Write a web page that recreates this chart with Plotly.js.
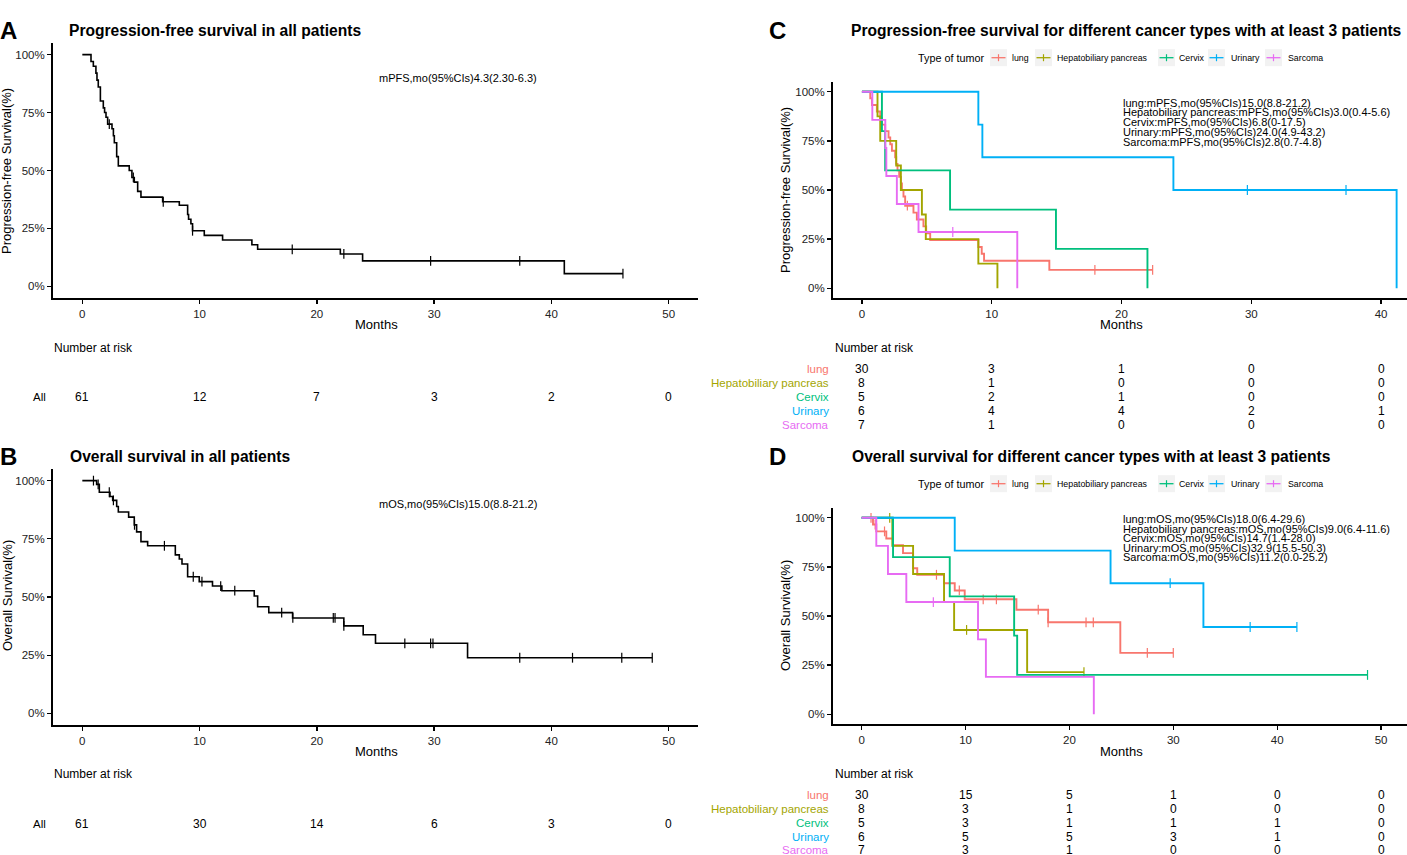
<!DOCTYPE html>
<html><head><meta charset="utf-8">
<script src="https://cdn.plot.ly/plotly-3.0.1.min.js"></script>
<style>html,body{margin:0;padding:0;background:#fff;overflow:hidden}#chart{width:1407px;height:855px}</style>
</head><body><div id="chart"></div>
<script>
// ---------------- DATA ----------------
const groups = ["lung", "Hepatobiliary pancreas", "Cervix", "Urinary", "Sarcoma"];

// Panel A: PFS, all patients (step times in months, survival %)
const pfsAllTime = [0, 0.74, 0.94, 1.16, 1.25, 1.36, 1.54, 1.79, 1.9, 2.02, 2.16, 2.53, 2.65, 2.73, 2.93, 3.07, 4.0, 4.23, 4.43, 4.72, 5.0, 6.85, 8.27, 8.98, 9.06, 9.26, 9.4, 10.4, 11.96, 14.46, 14.95, 22.0, 23.9, 41.1, 46.1];
const pfsAllSurv = [100, 97, 95, 92, 89, 86, 80, 77, 75, 73, 70, 68, 65, 62, 56, 52, 50, 47, 45, 41, 38.5, 36.5, 35, 31, 29, 27, 24, 22, 20, 18, 16, 14, 11, 5.5, 5.5];
const pfsAllCensor = [2.3, 4.35, 6.9, 9.4, 17.9, 22.3, 29.7, 37.3, 46.1];

// Panel B: OS, all patients
const osAllTime = [0, 1.22, 1.45, 2.36, 2.59, 2.93, 3.07, 3.95, 4.43, 4.63, 5.0, 5.57, 7.93, 8.27, 8.5, 8.98, 9.97, 11.1, 11.9, 14.66, 14.95, 15.9, 17.93, 22.3, 23.95, 25.0, 32.85, 48.6];
const osAllSurv = [100, 98.4, 95, 93.2, 91.5, 88.9, 86.5, 84.3, 81, 78, 73.8, 72, 68.1, 66.3, 64.2, 58.7, 56.6, 54.7, 52.7, 50.4, 45.8, 43.3, 41, 37.6, 33.8, 30.1, 23.9, 23.9];
const osAllCensor = [0.95, 1.35, 2.3, 2.65, 4.45, 7.0, 9.46, 10.2, 11.8, 13.0, 17.0, 17.95, 21.4, 21.55, 22.3, 27.5, 29.7, 29.9, 37.3, 41.8, 46.0, 48.6];

// Panel C: PFS by tumour type
const pfsLungTime = [0, 0.64, 0.77, 1.15, 1.41, 1.54, 1.79, 2.05, 2.18, 2.31, 2.56, 2.64, 2.74, 2.87, 3.0, 3.08, 3.2, 3.33, 3.97, 4.23, 4.74, 4.95, 5.26, 8.97, 9.23, 9.41, 14.44, 22.4];
const pfsLungSurv = [100, 96.7, 93.3, 90, 86.7, 83.3, 80, 76.7, 73.3, 70, 66.7, 63.3, 60, 56.7, 53.3, 50, 46.7, 42, 38.5, 35, 31.5, 28, 24.5, 21, 17.5, 14, 9.3, 9.3];
const pfsLungCensor = [3.5, 17.95, 22.4];
const pfsHepTime = [0, 1.2, 1.41, 2.64, 3.0, 4.62, 4.92, 8.97, 10.44];
const pfsHepSurv = [100, 87.5, 75, 62.5, 50, 37.5, 25, 12.5, 0];
const pfsHepCensor = [];
const pfsCervixTime = [0, 1.54, 1.79, 6.79, 14.95, 22.0];
const pfsCervixSurv = [100, 80, 60, 40, 20, 0];
const pfsCervixCensor = [];
const pfsUrinaryTime = [0, 8.97, 9.28, 24.0, 41.2];
const pfsUrinarySurv = [100, 83.3, 66.7, 50, 0];
const pfsUrinaryCensor = [29.7, 37.3];
const pfsSarcomaTime = [0, 0.8, 1.8, 1.88, 2.69, 4.36, 11.97];
const pfsSarcomaSurv = [100, 85.7, 71.4, 57.1, 42.9, 28.6, 0];
const pfsSarcomaCensor = [7.0];

// Panel D: OS by tumour type
const osLungTime = [0, 1.09, 1.41, 2.37, 3.02, 3.98, 4.95, 5.35, 7.93, 8.96, 9.92, 14.9, 17.95, 24.9, 30.0];
const osLungSurv = [100, 96.6, 93.1, 89.5, 86, 82, 74.3, 71, 66.7, 63, 58.5, 53.2, 46.8, 31.2, 31.2];
const osLungCensor = [0.9, 1.3, 2.2, 7.2, 9.4, 11.7, 12.97, 17.0, 17.95, 21.6, 22.3, 27.5, 30.0];
const osHepTime = [0, 2.95, 4.95, 7.93, 8.9, 15.93, 21.4];
const osHepSurv = [100, 85.7, 71.4, 57.1, 42.9, 21.4, 21.4];
const osHepCensor = [2.7, 10.1, 21.4];
const osCervixTime = [0, 3.02, 8.48, 14.68, 14.97, 48.7];
const osCervixSurv = [100, 80, 60, 40, 20, 20];
const osCervixCensor = [48.7];
const osUrinaryTime = [0, 8.96, 23.96, 32.9, 41.9];
const osUrinarySurv = [100, 83.3, 66.7, 44.4, 44.4];
const osUrinaryCensor = [29.7, 37.4, 41.9];
const osSarcomaTime = [0, 1.41, 2.53, 4.3, 11.2, 11.96, 22.35];
const osSarcomaSurv = [100, 85.7, 71.4, 57.1, 38.1, 19.0, 0];
const osSarcomaCensor = [6.9];

// Risk tables
const riskTimesAB = [0, 10, 20, 30, 40, 50];
const riskPfsAll = [61, 12, 7, 3, 2, 0];
const riskOsAll = [61, 30, 14, 6, 3, 0];
const riskTimesC = [0, 10, 20, 30, 40];
const riskPfsLung = [30, 3, 1, 0, 0];
const riskPfsHep = [8, 1, 0, 0, 0];
const riskPfsCervix = [5, 2, 1, 0, 0];
const riskPfsUrinary = [6, 4, 4, 2, 1];
const riskPfsSarcoma = [7, 1, 0, 0, 0];
const riskTimesD = [0, 10, 20, 30, 40, 50];
const riskOsLung = [30, 15, 5, 1, 0, 0];
const riskOsHep = [8, 3, 1, 0, 0, 0];
const riskOsCervix = [5, 3, 1, 1, 1, 0];
const riskOsUrinary = [6, 5, 5, 3, 1, 0];
const riskOsSarcoma = [7, 3, 1, 0, 0, 0];

// Labels / texts
const ticksPct = [0, 25, 50, 75, 100];
const tickPctText = ["0%", "25%", "50%", "75%", "100%"];
const statA = "mPFS,mo(95%CIs)4.3(2.30-6.3)";
const statB = "mOS,mo(95%CIs)15.0(8.8-21.2)";
const statC = ["lung:mPFS,mo(95%CIs)15.0(8.8-21.2)", "Hepatobiliary pancreas:mPFS,mo(95%CIs)3.0(0.4-5.6)", "Cervix:mPFS,mo(95%CIs)6.8(0-17.5)", "Urinary:mPFS,mo(95%CIs)24.0(4.9-43.2)", "Sarcoma:mPFS,mo(95%CIs)2.8(0.7-4.8)"];
const statD = ["lung:mOS,mo(95%CIs)18.0(6.4-29.6)", "Hepatobiliary pancreas:mOS,mo(95%CIs)9.0(6.4-11.6)", "Cervix:mOS,mo(95%CIs)14.7(1.4-28.0)", "Urinary:mOS,mo(95%CIs)32.9(15.5-50.3)", "Sarcoma:mOS,mo(95%CIs)11.2(0.0-25.2)"];

// ---------------- STYLE / LAYOUT ----------------
const colors = ["#F8766D", "#A3A500", "#00BF7D", "#00B0F6", "#E76BF3"];
const FONT = "Liberation Sans, Arial, Helvetica, sans-serif";
const W = 1407, H = 855;
const px = x => x / W, py = y => 1 - y / H;

function stepAt(T, S, t) { let v = S[0]; for (let i = 0; i < T.length; i++) if (T[i] <= t + 1e-9) v = S[i]; return v; }

const traces = [];
function addCurve(T, S, C, color, width, xa, ya) {
  traces.push({x: T, y: S, xaxis: xa, yaxis: ya, type: 'scatter', mode: 'lines', line: {shape: 'hv', color: color, width: width}, hoverinfo: 'skip', showlegend: false});
  if (C.length) traces.push({x: C, y: C.map(t => stepAt(T, S, t)), xaxis: xa, yaxis: ya, type: 'scatter', mode: 'markers',
    marker: {symbol: 'line-ns', size: 7, color: color, line: {color: color, width: 1.2}}, hoverinfo: 'skip', showlegend: false});
}
addCurve(pfsAllTime, pfsAllSurv, pfsAllCensor, '#000', 1.6, 'x', 'y');
addCurve(osAllTime, osAllSurv, osAllCensor, '#000', 1.6, 'x2', 'y2');
const pfsSets = [[pfsLungTime, pfsLungSurv, pfsLungCensor], [pfsHepTime, pfsHepSurv, pfsHepCensor], [pfsCervixTime, pfsCervixSurv, pfsCervixCensor], [pfsUrinaryTime, pfsUrinarySurv, pfsUrinaryCensor], [pfsSarcomaTime, pfsSarcomaSurv, pfsSarcomaCensor]];
const osSets = [[osLungTime, osLungSurv, osLungCensor], [osHepTime, osHepSurv, osHepCensor], [osCervixTime, osCervixSurv, osCervixCensor], [osUrinaryTime, osUrinarySurv, osUrinaryCensor], [osSarcomaTime, osSarcomaSurv, osSarcomaCensor]];
pfsSets.forEach((s, i) => addCurve(s[0], s[1], s[2], colors[i], 1.9, 'x3', 'y3'));
osSets.forEach((s, i) => addCurve(s[0], s[1], s[2], colors[i], 1.9, 'x4', 'y4'));

function xax(d0, d1, range, tickvals, anchor) {
  return {domain: [px(d0), px(d1)], range: range, anchor: anchor, tickvals: tickvals, ticktext: tickvals.map(String),
    ticks: 'outside', ticklen: 4, tickwidth: 1.3, tickcolor: '#000', showline: true, linewidth: 2, linecolor: '#000',
    showgrid: false, zeroline: false, tickfont: {family: FONT, size: 11.5, color: '#222'}, fixedrange: true};
}
function yax(top, bottom, anchor) {
  return {domain: [py(bottom), py(top)], range: [-5, 105], anchor: anchor, tickvals: ticksPct, ticktext: tickPctText,
    ticks: 'outside', ticklen: 4, tickwidth: 1.3, tickcolor: '#000', showline: true, linewidth: 2, linecolor: '#000',
    showgrid: false, zeroline: false, tickfont: {family: FONT, size: 11.5, color: '#222'}, fixedrange: true};
}

const ann = [];
const shapes = [];
function txt(x, y, text, opts) {
  const o = Object.assign({xanchor: 'left'}, opts || {});
  let xx = x;
  if (o.xanchor === 'left') xx -= 2; else if (o.xanchor === 'right') xx += 2;
  ann.push(Object.assign({x: px(xx), y: py(y), xref: 'paper', yref: 'paper', text: text, showarrow: false,
    yanchor: 'middle', font: {family: FONT, size: 12, color: '#000'}}, o));
}
// panel letters & titles
txt(0, 31, '<b>A</b>', {font: {family: FONT, size: 24, color: '#000'}});
txt(0, 456, '<b>B</b>', {font: {family: FONT, size: 24, color: '#000'}});
txt(769, 31, '<b>C</b>', {font: {family: FONT, size: 24, color: '#000'}});
txt(769, 456, '<b>D</b>', {font: {family: FONT, size: 24, color: '#000'}});
txt(69, 30, '<b>Progression-free survival in all patients</b>', {font: {family: FONT, size: 15.6, color: '#000'}});
txt(70, 456, '<b>Overall survival in all patients</b>', {font: {family: FONT, size: 15.6, color: '#000'}});
txt(851, 30, '<b>Progression-free survival for different cancer types with at least 3 patients</b>', {font: {family: FONT, size: 15.6, color: '#000'}});
txt(852, 456, '<b>Overall survival for different cancer types with at least 3 patients</b>', {font: {family: FONT, size: 15.6, color: '#000'}});

// axis titles
[[376, 325], [376, 751], [1121, 325], [1121, 751]].forEach(p => txt(p[0], p[1], 'Months', {xanchor: 'center', font: {family: FONT, size: 13, color: '#000'}}));
[[7, 171, 'Progression-free Survival(%)'], [7, 596, 'Overall Survival(%)'], [785, 190, 'Progression-free Survival(%)'], [785, 616, 'Overall Survival(%)']]
  .forEach(p => txt(p[0], p[1], p[2], {xanchor: 'center', textangle: -90, font: {family: FONT, size: 13, color: '#000'}}));

// median statistics texts (data coordinates)
ann.push({x: 32, y: 90, xref: 'x', yref: 'y', text: statA, showarrow: false, xanchor: 'center', yanchor: 'middle', font: {family: FONT, size: 11, color: '#000'}});
ann.push({x: 32, y: 90, xref: 'x2', yref: 'y2', text: statB, showarrow: false, xanchor: 'center', yanchor: 'middle', font: {family: FONT, size: 11, color: '#000'}});
const statCy = [94.5, 89.6, 84.7, 79.7, 74.7];
const statDy = [99.5, 94.5, 89.6, 84.8, 80];
statC.forEach((s, i) => ann.push({x: 20, y: statCy[i], xref: 'x3', yref: 'y3', text: s, showarrow: false, xanchor: 'left', yanchor: 'middle', font: {family: FONT, size: 11, color: '#000'}}));
statD.forEach((s, i) => ann.push({x: 25, y: statDy[i], xref: 'x4', yref: 'y4', text: s, showarrow: false, xanchor: 'left', yanchor: 'middle', font: {family: FONT, size: 11, color: '#000'}}));

// legends for C and D
const keyX = [990, 1035, 1158, 1208, 1265];
const keyTextX = [1011.5, 1057, 1179, 1231, 1287.5];
[57.7, 483.7].forEach(cy => {
  txt(918, cy, 'Type of tumor', {font: {family: FONT, size: 10.8, color: '#000'}});
  groups.forEach((g, i) => {
    shapes.push({type: 'rect', xref: 'paper', yref: 'paper', x0: px(keyX[i]), x1: px(keyX[i] + 17), y0: py(cy + 8.5), y1: py(cy - 8.5), fillcolor: '#f2f2f2', line: {width: 0}, layer: 'below'});
    shapes.push({type: 'line', xref: 'paper', yref: 'paper', x0: px(keyX[i] + 1.5), x1: px(keyX[i] + 15.5), y0: py(cy), y1: py(cy), line: {color: colors[i], width: 1.3}});
    shapes.push({type: 'line', xref: 'paper', yref: 'paper', x0: px(keyX[i] + 8.5), x1: px(keyX[i] + 8.5), y0: py(cy - 3.5), y1: py(cy + 3.5), line: {color: colors[i], width: 1.2}});
    txt(keyTextX[i], cy, g, {font: {family: FONT, size: 8.8, color: '#000'}});
  });
});

// risk tables
txt(54, 348, 'Number at risk', {font: {family: FONT, size: 12, color: '#000'}});
txt(54, 774, 'Number at risk', {font: {family: FONT, size: 12, color: '#000'}});
txt(835, 348, 'Number at risk', {font: {family: FONT, size: 12, color: '#000'}});
txt(835, 774, 'Number at risk', {font: {family: FONT, size: 12, color: '#000'}});
txt(46, 397, 'All', {xanchor: 'right', font: {family: FONT, size: 11.5, color: '#000'}});
txt(46, 824, 'All', {xanchor: 'right', font: {family: FONT, size: 11.5, color: '#000'}});
function riskRow(times, vals, xa, yPix) {
  times.forEach((t, i) => ann.push({x: t, y: py(yPix), xref: xa, yref: 'paper', text: String(vals[i]), showarrow: false,
    xanchor: 'center', yanchor: 'middle', font: {family: FONT, size: 12, color: '#000'}}));
}
riskRow(riskTimesAB, riskPfsAll, 'x', 397);
riskRow(riskTimesAB, riskOsAll, 'x2', 824);
const riskC = [riskPfsLung, riskPfsHep, riskPfsCervix, riskPfsUrinary, riskPfsSarcoma];
const riskD = [riskOsLung, riskOsHep, riskOsCervix, riskOsUrinary, riskOsSarcoma];
const rowsC = [369, 383, 397, 411, 425];
const rowsD = [795, 809, 823, 837, 849.5];
groups.forEach((g, i) => {
  txt(829, rowsC[i], g, {xanchor: 'right', font: {family: FONT, size: 11.5, color: colors[i]}});
  riskRow(riskTimesC, riskC[i], 'x3', rowsC[i]);
  txt(829, rowsD[i], g, {xanchor: 'right', font: {family: FONT, size: 11.5, color: colors[i]}});
  riskRow(riskTimesD, riskD[i], 'x4', rowsD[i]);
});

const layout = {
  width: W, height: H, margin: {l: 0, r: 0, t: 0, b: 0}, paper_bgcolor: '#fff', plot_bgcolor: '#fff',
  showlegend: false, hovermode: false,
  xaxis: xax(53, 698, [-2.5, 52.5], [0, 10, 20, 30, 40, 50], 'y'),
  yaxis: yax(43, 298, 'x'),
  xaxis2: xax(53, 698, [-2.5, 52.5], [0, 10, 20, 30, 40, 50], 'y2'),
  yaxis2: yax(469, 725, 'x2'),
  xaxis3: xax(833, 1407, [-2.23, 42.0], [0, 10, 20, 30, 40], 'y3'),
  yaxis3: yax(82, 298, 'x3'),
  xaxis4: xax(833, 1407, [-2.76, 52.5], [0, 10, 20, 30, 40, 50], 'y4'),
  yaxis4: yax(508, 724, 'x4'),
  annotations: ann, shapes: shapes
};
Plotly.newPlot('chart', traces, layout, {displayModeBar: false, staticPlot: true});
</script></body></html>
